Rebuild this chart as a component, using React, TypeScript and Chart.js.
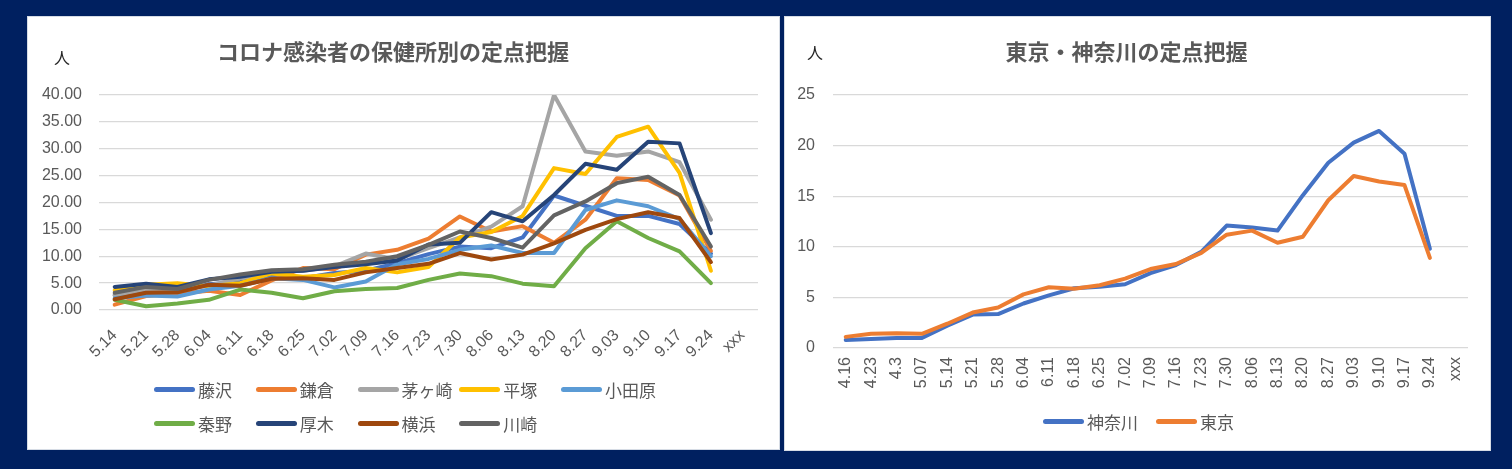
import React, { useEffect, useRef } from "react";
import { Chart, registerables } from "chart.js";

Chart.register(...registerables);

// ---------- Left chart data ----------
const LEFT_LABELS = ["5.14", "5.21", "5.28", "6.04", "6.11", "6.18", "6.25", "7.02", "7.09", "7.16", "7.23", "7.30", "8.06", "8.13", "8.20", "8.27", "9.03", "9.10", "9.17", "9.24", "xxx"];
const FUJISAWA = [2.8, 3.5, 3.3, 4.8, 5.2, 6.2, 5.9, 6.9, 7.3, 8.7, 10.4, 11.8, 11.5, 13.5, 21.3, 19.4, 17.5, 17.5, 16.0, 10.5];
const KAMAKURA = [1.0, 2.6, 3.0, 3.6, 2.8, 5.5, 7.8, 7.6, 10.3, 11.2, 13.3, 17.4, 14.6, 15.6, 12.5, 16.8, 24.5, 24.2, 21.3, 11.0];
const CHIGASAKI = [2.7, 3.9, 3.8, 4.5, 5.9, 7.0, 7.3, 8.1, 10.5, 9.4, 11.5, 13.5, 15.5, 19.3, 40.0, 29.5, 28.7, 29.5, 27.5, 16.8];
const HIRATSUKA = [3.7, 4.7, 5.0, 4.4, 5.0, 6.8, 6.2, 6.5, 7.8, 7.0, 8.0, 13.5, 14.5, 17.5, 26.4, 25.3, 32.2, 34.1, 25.5, 7.3];
const ODAWARA = [2.2, 2.7, 2.5, 3.8, 4.5, 5.9, 5.6, 4.2, 5.3, 8.5, 9.5, 11.2, 12.0, 10.6, 10.6, 18.6, 20.4, 19.3, 16.9, 10.0];
const HADANO = [1.9, 0.7, 1.2, 1.9, 3.8, 3.2, 2.2, 3.5, 3.9, 4.1, 5.6, 6.8, 6.3, 4.9, 4.4, 11.5, 16.5, 13.4, 10.9, 5.0];
const ATSUGI = [4.3, 4.9, 4.3, 5.7, 6.2, 7.1, 7.3, 8.0, 8.5, 9.2, 12.2, 12.5, 18.2, 16.5, 21.4, 27.2, 26.1, 31.3, 31.0, 14.3];
const YOKOHAMA = [2.0, 3.2, 3.3, 4.7, 4.5, 5.8, 5.9, 5.6, 7.0, 7.8, 8.6, 10.6, 9.4, 10.3, 12.4, 14.9, 16.9, 18.2, 17.1, 8.9];
const KAWASAKI = [3.2, 4.3, 3.9, 5.6, 6.6, 7.4, 7.6, 8.4, 9.0, 10.0, 12.1, 14.6, 13.4, 11.6, 17.6, 20.2, 23.6, 24.8, 21.4, 11.8];
const LEFT_NAMES = ["藤沢", "鎌倉", "茅ヶ崎", "平塚", "小田原", "秦野", "厚木", "横浜", "川崎"];
const LEFT_SERIES = [FUJISAWA, KAMAKURA, CHIGASAKI, HIRATSUKA, ODAWARA, HADANO, ATSUGI, YOKOHAMA, KAWASAKI];
const LEFT_COLORS = ["#4472C4", "#ED7D31", "#A5A5A5", "#FFC000", "#5B9BD5", "#70AD47", "#264478", "#9E480E", "#636363"];
const LEFT_TITLE = "コロナ感染者の保健所別の定点把握";

// ---------- Right chart data ----------
const RIGHT_LABELS = ["4.16", "4.23", "4.3", "5.07", "5.14", "5.21", "5.28", "6.04", "6.11", "6.18", "6.25", "7.02", "7.09", "7.16", "7.23", "7.30", "8.06", "8.13", "8.20", "8.27", "9.03", "9.10", "9.17", "9.24", "xxx"];
const KANAGAWA = [0.8, 0.9, 1.0, 1.0, 2.2, 3.3, 3.35, 4.4, 5.2, 5.9, 6.05, 6.3, 7.4, 8.2, 9.5, 12.1, 11.9, 11.6, 15.1, 18.3, 20.3, 21.45, 19.2, 9.8];
const TOKYO = [1.1, 1.4, 1.45, 1.4, 2.4, 3.5, 4.0, 5.3, 6.0, 5.85, 6.2, 6.85, 7.8, 8.3, 9.4, 11.2, 11.6, 10.4, 11.0, 14.6, 17.0, 16.45, 16.1, 8.9];
const RIGHT_NAMES = ["神奈川", "東京"];
const RIGHT_SERIES = [KANAGAWA, TOKYO];
const RIGHT_COLORS = ["#4472C4", "#ED7D31"];
const RIGHT_TITLE = "東京・神奈川の定点把握";

const JP_FONT = '"Noto Sans CJK JP", "Noto Sans", sans-serif';
const NUM_FONT = '"Liberation Sans", Arial, sans-serif';
const TEXT_COLOR = "#595959";
const GRID_COLOR = "#D9D9D9";

type ChartSpec = {
  labels: string[];
  names: string[];
  series: number[][];
  colors: string[];
  title: string;
  yMax: number;
  decimals: number;
  rotation: number;
  xPad: number;
  xHeight: number;
  yWidth: number;
  yPad: number;
  padRight: number;
  padBottom: number;
  width: number;
  height: number;
};

function LineCanvas({ spec }: { spec: ChartSpec }) {
  const ref = useRef<HTMLCanvasElement | null>(null);
  useEffect(() => {
    if (!ref.current) return;
    const n = spec.series.length;
    const chart = new Chart(ref.current, {
      type: "line",
      data: {
        labels: spec.labels,
        datasets: spec.series.map((d, i) => ({
          label: spec.names[i],
          data: d,
          borderColor: spec.colors[i],
          backgroundColor: spec.colors[i],
          borderWidth: 4,
          pointRadius: 0,
          tension: 0,
          fill: false,
          borderJoinStyle: "round" as const,
          borderCapStyle: "round" as const,
          order: n - 1 - i,
        })),
      },
      options: {
        responsive: false,
        animation: false,
        layout: { padding: { left: 0, top: 0, right: spec.padRight, bottom: spec.padBottom } },
        plugins: {
          legend: { display: false },
          tooltip: { enabled: false },
          title: {
            display: true,
            text: spec.title,
            color: TEXT_COLOR,
            font: { family: JP_FONT, size: 22, weight: "bold", lineHeight: 1.2 },
            padding: { top: 21.8, bottom: 29.8 },
          },
        },
        scales: {
          x: {
            type: "category",
            offset: true,
            grid: { display: false, drawTicks: false },
            border: { display: false },
            ticks: {
              autoSkip: false,
              minRotation: spec.rotation,
              maxRotation: spec.rotation,
              padding: spec.xPad,
              color: TEXT_COLOR,
              font: { family: NUM_FONT, size: 16 },
            },
            afterFit: (s: any) => {
              s.height = spec.xHeight;
            },
          },
          y: {
            min: 0,
            max: spec.yMax,
            grid: { color: GRID_COLOR, lineWidth: 1.3, drawTicks: false },
            border: { display: false },
            ticks: {
              stepSize: 5,
              padding: spec.yPad,
              color: TEXT_COLOR,
              font: { family: NUM_FONT, size: 16 },
              callback: (v: any) => Number(v).toFixed(spec.decimals),
            },
            afterFit: (s: any) => {
              s.width = spec.yWidth;
            },
          },
        },
      },
    });
    return () => chart.destroy();
  }, [spec]);
  return <canvas ref={ref} width={spec.width} height={spec.height} style={{ display: "block" }} />;
}

const LEFT_SPEC: ChartSpec = {
  labels: LEFT_LABELS,
  names: LEFT_NAMES,
  series: LEFT_SERIES,
  colors: LEFT_COLORS,
  title: LEFT_TITLE,
  yMax: 40,
  decimals: 2,
  rotation: 45,
  xPad: 16,
  xHeight: 70,
  yWidth: 71,
  yPad: 17,
  padRight: 21,
  padBottom: 69,
  width: 751,
  height: 432,
};

const RIGHT_SPEC: ChartSpec = {
  labels: RIGHT_LABELS,
  names: RIGHT_NAMES,
  series: RIGHT_SERIES,
  colors: RIGHT_COLORS,
  title: RIGHT_TITLE,
  yMax: 25,
  decimals: 0,
  rotation: 90,
  xPad: 9,
  xHeight: 50,
  yWidth: 48,
  yPad: 18,
  padRight: 22,
  padBottom: 52,
  width: 705,
  height: 433,
};

function LegendItem({ name, color, left, top }: { name: string; color: string; left: number; top: number }) {
  return (
    <div
      style={{
        position: "absolute",
        left,
        top: top - 12,
        height: 24,
        display: "flex",
        alignItems: "center",
        whiteSpace: "nowrap",
      }}
    >
      <div style={{ width: 41, height: 5, borderRadius: 2.5, background: color }} />
      <span style={{ marginLeft: 3, fontFamily: JP_FONT, fontSize: 17, color: TEXT_COLOR }}>{name}</span>
    </div>
  );
}

export default function App() {
  return (
    <div
      style={{
        position: "fixed",
        left: 0,
        top: 0,
        width: 1512,
        height: 469,
        background: "#002060",
        overflow: "hidden",
      }}
    >
      {/* Left panel */}
      <div
        style={{
          position: "absolute",
          left: 27,
          top: 16,
          width: 753,
          height: 434,
          boxSizing: "border-box",
          border: "1px solid #D6DCE5",
          background: "#ffffff",
        }}
      >
        <LineCanvas spec={LEFT_SPEC} />
      </div>
      <span
        style={{
          position: "absolute",
          left: 62,
          top: 57,
          transform: "translate(-50%, -50%)",
          fontFamily: JP_FONT,
          fontSize: 16,
          color: "#262626",
        }}
      >
        人
      </span>
      {LEFT_NAMES.map((nm, i) => (
        <LegendItem
          key={nm}
          name={nm}
          color={LEFT_COLORS[i]}
          left={154 + (i % 5) * 101.75}
          top={389 + Math.floor(i / 5) * 34}
        />
      ))}

      {/* Right panel */}
      <div
        style={{
          position: "absolute",
          left: 784,
          top: 16,
          width: 707,
          height: 435,
          boxSizing: "border-box",
          border: "1px solid #D6DCE5",
          background: "#ffffff",
        }}
      >
        <LineCanvas spec={RIGHT_SPEC} />
      </div>
      <span
        style={{
          position: "absolute",
          left: 815,
          top: 52,
          transform: "translate(-50%, -50%)",
          fontFamily: JP_FONT,
          fontSize: 16,
          color: "#262626",
        }}
      >
        人
      </span>
      {RIGHT_NAMES.map((nm, i) => (
        <LegendItem key={nm} name={nm} color={RIGHT_COLORS[i]} left={i === 0 ? 1043 : 1156} top={421} />
      ))}
    </div>
  );
}
